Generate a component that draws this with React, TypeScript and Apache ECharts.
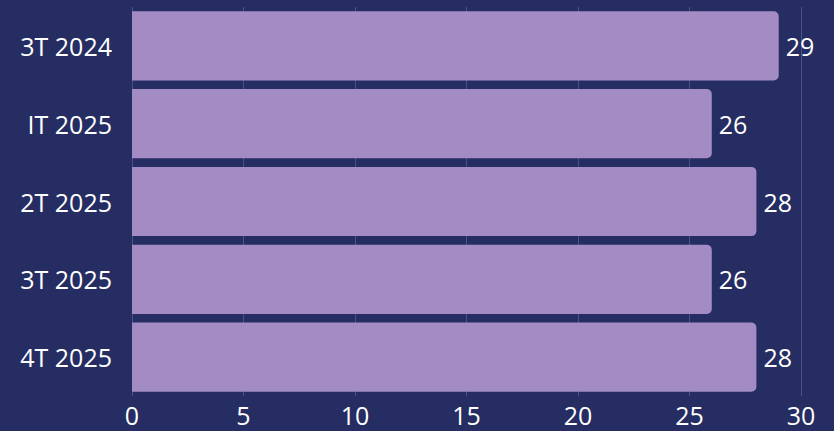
import React, { useEffect, useRef } from "react";
import * as echarts from "echarts";

const categories = ["3T 2024", "IT 2025", "2T 2025", "3T 2025", "4T 2025"];
const values = [29, 26, 28, 26, 28];
const xTicks = [0, 5, 10, 15, 20, 25, 30];

export default function App() {
  const ref = useRef<HTMLDivElement>(null);
  useEffect(() => {
    document.body.style.margin = "0";
    const chart = echarts.init(ref.current!, null, { renderer: "svg" });
    chart.setOption({
      animation: false,
      backgroundColor: "#252d62",
      textStyle: { fontFamily: "Open Sans" },
      grid: { left: 132, right: 33, top: 7, bottom: 35, containLabel: false },
      xAxis: {
        type: "value",
        min: xTicks[0],
        max: xTicks[xTicks.length - 1],
        interval: 5,
        axisLine: { show: false },
        axisTick: { show: false },
        splitLine: { show: true, lineStyle: { color: "#4a5185", width: 1 } },
        axisLabel: { color: "#ffffff", fontSize: 25, margin: 6 },
      },
      yAxis: {
        type: "category",
        data: categories,
        inverse: true,
        axisLine: { show: false },
        axisTick: { show: false },
        axisLabel: { color: "#ffffff", fontSize: 25, margin: 20 },
      },
      series: [
        {
          type: "bar",
          data: values,
          barCategoryGap: "11%",
          itemStyle: { color: "#a38bc4", borderRadius: [0, 5, 5, 0] },
          label: {
            show: true,
            position: "right",
            distance: 7,
            color: "#ffffff",
            fontSize: 25,
          },
        },
      ],
    });
    return () => chart.dispose();
  }, []);
  return <div ref={ref} style={{ width: 834, height: 431 }} />;
}
